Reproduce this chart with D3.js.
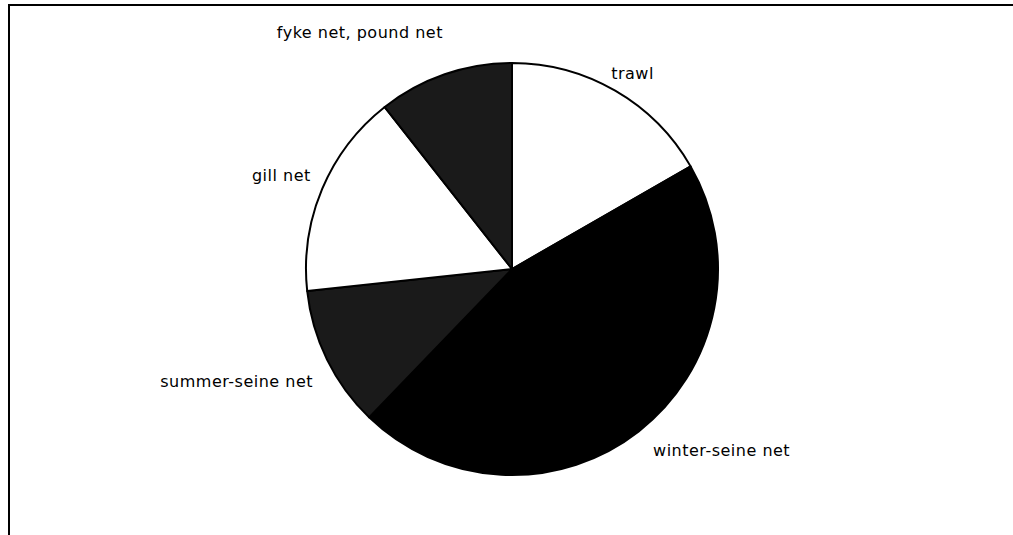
<!DOCTYPE html>
<html><head><meta charset="utf-8">
<script src="https://cdn.jsdelivr.net/npm/d3@7"></script>
<style>body{margin:0;background:#fff}svg{display:block}</style>
</head><body>
<script>
const categories = ["trawl", "winter-seine net", "summer-seine net", "gill net", "fyke net, pound net"];
const values = [16.7, 45.5, 11.1, 16.1, 10.6];
const fills = ["#ffffff", "#000000", "#1a1a1a", "#ffffff", "#1a1a1a"];

const W = 1013, H = 535;
const cx = 512, cy = 269, R = 206;
const svg = d3.select("body").append("svg").attr("width", W).attr("height", H);

// frame
svg.append("line").attr("x1", 8).attr("y1", 5).attr("x2", W).attr("y2", 5).attr("stroke", "#000").attr("stroke-width", 2);
svg.append("line").attr("x1", 9).attr("y1", 5).attr("x2", 9).attr("y2", H).attr("stroke", "#000").attr("stroke-width", 2);

const data = categories.map((c, i) => ({name: c, value: values[i], fill: fills[i]}));
const pie = d3.pie().value(d => d.value).sort(null);
const arc = d3.arc().innerRadius(0).outerRadius(R);
const arcs = pie(data);

const g = svg.append("g").attr("transform", `translate(${cx},${cy})`);
g.selectAll("path").data(arcs).join("path")
  .attr("d", arc)
  .attr("fill", d => d.data.fill)
  .attr("stroke", "#000")
  .attr("stroke-width", 2)
  .attr("stroke-linejoin", "round");

// labels (placed at the slice mid-angle, with small layout nudges)
const LR = 226;
const nudgeX = [-14, 2, 4, 7, 12];
const nudgeY = [1, 4, 4, -5, -1];
g.selectAll("text").data(arcs).join("text")
  .each(function(d, i) {
    const a = (d.startAngle + d.endAngle) / 2;
    const s = Math.sin(a), c = Math.cos(a);
    const r = c > 0.9 ? LR + 22 : LR;
    const x = r * s + nudgeX[i], y = -r * c + (s < 0 && c < 0 ? 10 : 0) + nudgeY[i];
    d3.select(this)
      .attr("x", x).attr("y", y)
      .attr("text-anchor", s >= 0 ? "start" : "end")
      .attr("dominant-baseline", "middle");
  })
  .attr("font-family", "'DejaVu Sans', sans-serif")
  .attr("font-size", 16)
  .attr("letter-spacing", 0.5)
  .attr("fill", "#000")
  .text(d => d.data.name);
</script>
</body></html>
